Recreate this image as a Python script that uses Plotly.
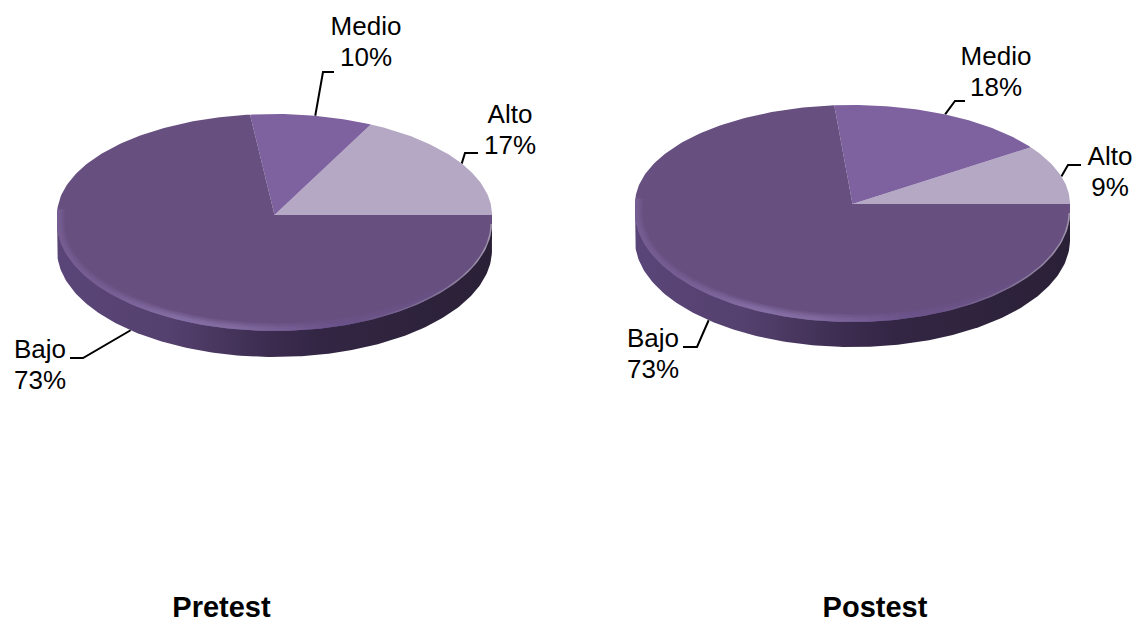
import math
import plotly.graph_objects as go

categories = ["Alto", "Medio", "Bajo"]
pretest_values = [17, 10, 73]
postest_values = [9, 18, 73]
titles = ["Pretest", "Postest"]

FONT = "Liberation Sans, Arial, sans-serif"
SLICE_COLORS = {"Alto": "#b4a8c4", "Medio": "#7e619f", "Bajo": "#674f80"}
SIDE_SCALE = [[0, "#5a4578"], [0.25, "#55416f"], [0.5, "#3b2b4e"], [0.6, "#332644"], [1, "#2a2036"]]
RIM_SCALE = [[0, "#7a6298"], [0.1, "#7a6298"], [0.28, "#8d78ae"], [0.4, "#8a74aa"], [0.62, "#6f5790"], [1, "#67507f"]]
EDGE_SCALE = [[0, "rgba(150,140,165,0)"], [0.7, "rgba(150,140,165,0)"], [1, "rgba(165,158,175,0.9)"]]

pies = [
    dict(values=pretest_values, title=titles[0], cx=274.5, cy=215, rx=217.5, up=101,
         face=(8, 108), base=(35, 107), title_x=221.5, skew=0.0,
         leaders={"Alto": [(465, 153), (478, 153)], "Medio": [(323, 72), (334, 72)], "Bajo": [(83, 358), (70, 358)]},
         labels={"Alto": (510, 116), "Medio": (366, 28), "Bajo": (40, 351)}),
    dict(values=postest_values, title=titles[1], cx=852.5, cy=204, rx=217.5, up=99,
         face=(8, 110), base=(36, 107), title_x=875, skew=1.7,
         leaders={"Alto": [(1068, 165), (1081, 165)], "Medio": [(955, 101), (965, 101)], "Bajo": [(697, 347), (683, 347)]},
         labels={"Alto": (1110, 158), "Medio": (996, 58), "Bajo": (653, 340)}),
]
LINE_PITCH = 31.5
TITLE_Y = 609.5


def warp(deg, skew):
    s = math.sin(math.radians(deg))
    return deg + 3 * math.sin(math.radians(2 * deg)) - skew * s ** 4


def rim(p, deg, lower, inset=0.0, warped=True):
    t = math.radians(warp(deg, p["skew"]) if warped else deg)
    s = math.sin(t)
    x = p["cx"] + (p["rx"] - inset) * math.cos(t)
    if s >= 0:
        return x, p["cy"] - (p["up"] - inset) * s
    return x, p["cy"] + lower[0] + (lower[1] - inset) * (-s)


def arc(p, a, b, lower, inset=0.0, step=1.0):
    n = max(2, int(abs(b - a) / step) + 1)
    pts = [rim(p, a + (b - a) * i / (n - 1), lower, inset) for i in range(n)]
    return [q[0] for q in pts], [q[1] for q in pts]


fig = go.Figure()


def poly(xs, ys, **kw):
    fig.add_trace(go.Scatter(x=xs, y=ys, mode="lines", fill="toself", line=dict(width=0),
                             hoverinfo="skip", showlegend=False, **kw))


for p in pies:
    spans = {}
    start = 0.0
    for cat, val in zip(categories, p["values"]):
        spans[cat] = (start, start + val * 3.6)
        start += val * 3.6
    # leaders go under the pie so they end on its edge
    for cat in categories:
        a, b = spans[cat]
        ax, ay = rim(p, (a + b) / 2, p["base"], warped=False)
        pts = [(ax, ay)] + p["leaders"][cat]
        fig.add_trace(go.Scatter(x=[q[0] for q in pts], y=[q[1] for q in pts], mode="lines",
                                 line=dict(color="#000000", width=2), hoverinfo="skip", showlegend=False))
    # side wall
    x1, y1 = arc(p, 180, 360, p["base"])
    poly(x1 + [p["cx"] + p["rx"], p["cx"] - p["rx"]], y1 + [p["cy"], p["cy"]],
         fillgradient=dict(type="horizontal", colorscale=SIDE_SCALE))
    # slices, from the values
    for cat in categories:
        a, b = spans[cat]
        xs, ys = arc(p, a, b, p["face"])
        if b > 359.9:  # the front rim rejoins the horizontal diameter on the right
            xs, ys = xs + [p["cx"] + p["rx"]], ys + [p["cy"]]
        poly([p["cx"]] + xs + [p["cx"]], [p["cy"]] + ys + [p["cy"]], fillcolor=SLICE_COLORS[cat])
    # soft bevel on the front rim
    for inset, op in ((8, 0.2), (6.5, 0.25), (5, 0.3), (3.5, 0.35), (2, 0.3)):
        x1, y1 = arc(p, 177, 359.5, p["face"])
        x2, y2 = arc(p, 359.5, 177, p["face"], inset=inset)
        poly(x1 + x2, y1 + y2, opacity=op, fillgradient=dict(type="horizontal", colorscale=RIM_SCALE))
    x1, y1 = arc(p, 180, 359.5, p["face"])
    x2, y2 = arc(p, 359.5, 180, p["face"], inset=1.5)
    poly(x1 + x2, y1 + y2, fillgradient=dict(type="horizontal", colorscale=EDGE_SCALE))
    # labels
    for cat, val in zip(categories, p["values"]):
        lx, ly = p["labels"][cat]
        fig.add_trace(go.Scatter(x=[lx, lx], y=[ly, ly + LINE_PITCH], mode="text", text=[cat, f"{val}%"],
                                 textposition="middle center",
                                 textfont=dict(family=FONT, size=26, color="#000000"),
                                 hoverinfo="skip", showlegend=False))
    fig.add_trace(go.Scatter(x=[p["title_x"]], y=[TITLE_Y], mode="text", text=[f"<b>{p['title']}</b>"],
                             textposition="middle center",
                             textfont=dict(family=FONT, size=29, color="#000000"),
                             hoverinfo="skip", showlegend=False, cliponaxis=False))

fig.update_layout(width=1137, height=622, margin=dict(l=0, r=0, t=0, b=0),
                  paper_bgcolor="#ffffff", plot_bgcolor="#ffffff", showlegend=False,
                  xaxis=dict(range=[0, 1137], visible=False, fixedrange=True),
                  yaxis=dict(range=[622, 0], visible=False, fixedrange=True))
fig.write_html("out.html", config={"displayModeBar": False},
               post_script="document.body.style.margin='0';document.documentElement.style.overflow='hidden';")
